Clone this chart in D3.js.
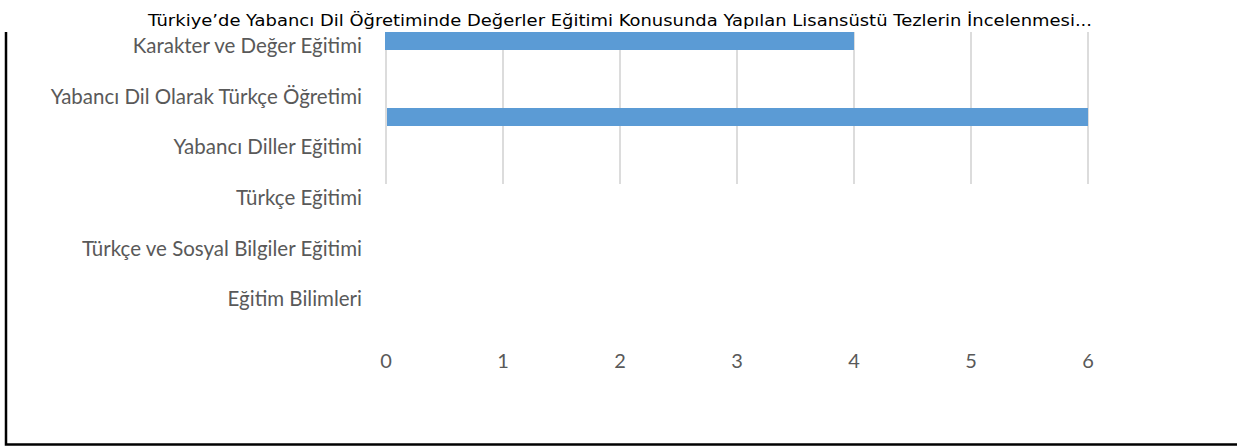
<!DOCTYPE html>
<html>
<head>
<meta charset="utf-8">
<script src="https://cdn.jsdelivr.net/npm/d3@7"></script>
<style>
	body { margin: 0; background: #fff; }
	svg { display: block; }
</style>
</head>
<body>
<script>
var titleText = "Türkiye’de Yabancı Dil Öğretiminde Değerler Eğitimi Konusunda Yapılan Lisansüstü Tezlerin İncelenmesi...";
var categories = [
	"Karakter ve Değer Eğitimi",
	"Yabancı Dil Olarak Türkçe Öğretimi",
	"Yabancı Diller Eğitimi",
	"Türkçe Eğitimi",
	"Türkçe ve Sosyal Bilgiler Eğitimi",
	"Eğitim Bilimleri"
];
var values = [4, 6, 0, 0, 0, 0];
var xTicks = [0, 1, 2, 3, 4, 5, 6];

var width = 1237, height = 448;
var gridTop = 32, gridBottom = 184;
var barStep = 76, barH = 18;

var svg = d3.select("body").append("svg")
	.attr("width", width)
	.attr("height", height);

var x = d3.scaleLinear()
	.domain([0, 6])
	.range([386, 1088]);

// bars sit at the top of each 76px step
var yBar = d3.scaleBand()
	.domain(categories)
	.range([gridTop, gridTop + barStep * (categories.length - 1) + barH])
	.paddingInner(1 - barH / barStep)
	.paddingOuter(0)
	.align(0);

var yLabel = d3.scalePoint()
	.domain(categories)
	.range([46, 299]);

// gridlines
svg.append("g")
	.selectAll("line")
	.data(xTicks)
	.join("line")
	.attr("x1", function(d) { return x(d); })
	.attr("x2", function(d) { return x(d); })
	.attr("y1", gridTop)
	.attr("y2", gridBottom)
	.attr("stroke", "#d9d9d9")
	.attr("stroke-width", 1.8);

// bars
svg.append("g")
	.selectAll("rect")
	.data(values)
	.join("rect")
	.attr("x", function(d, i) { return i == 0 ? x(0) - 1 : x(0) + 1; })
	.attr("y", function(d, i) { return yBar(categories[i]); })
	.attr("width", function(d, i) { return d > 0 ? x(d) - x(0) + (i == 0 ? 1 : -1) : 0; })
	.attr("height", yBar.bandwidth())
	.attr("fill", "#5b9bd5");

// category labels
svg.append("g")
	.selectAll("text")
	.data(categories)
	.join("text")
	.attr("x", 362)
	.attr("y", function(d) { return yLabel(d); })
	.attr("dy", "0.35em")
	.attr("text-anchor", "end")
	.attr("font-family", "Lato, sans-serif")
	.attr("font-size", 20.5)
	.attr("fill", "#595959")
	.text(function(d) { return d; });

// x tick labels
svg.append("g")
	.selectAll("text")
	.data(xTicks)
	.join("text")
	.attr("x", function(d) { return x(d); })
	.attr("y", 361)
	.attr("dy", "0.35em")
	.attr("text-anchor", "middle")
	.attr("font-family", "Lato, sans-serif")
	.attr("font-size", 20)
	.attr("fill", "#595959")
	.text(function(d) { return d; });

// title
svg.append("text")
	.attr("x", 620)
	.attr("y", 26)
	.attr("text-anchor", "middle")
	.attr("font-family", "'DejaVu Sans', sans-serif")
	.attr("font-size", 15.5)
	.attr("fill", "#000")
	.attr("textLength", 944)
	.attr("lengthAdjust", "spacingAndGlyphs")
	.text(titleText);

// frame (left and bottom edges visible)
svg.append("path")
	.attr("d", "M6," + gridTop + "L6,444.5L" + width + ",444.5")
	.attr("fill", "none")
	.attr("stroke", "#000")
	.attr("stroke-width", 2.5);
</script>
</body>
</html>
